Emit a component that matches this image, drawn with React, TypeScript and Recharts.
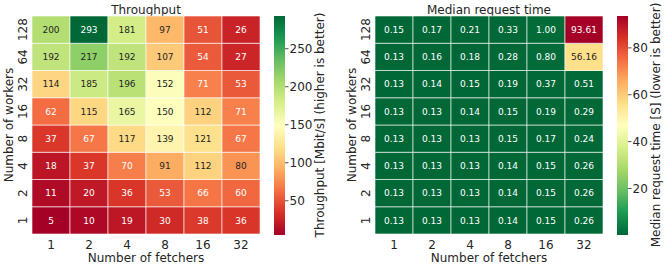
import React from "react";
import { BarChart, Bar, Cell, XAxis, YAxis, LabelList } from "recharts";

const FONT = "DejaVu Sans, sans-serif";
const INK = "#262626";

const FETCHERS = ["1", "2", "4", "8", "16", "32"];
const WORKERS = ["1", "2", "4", "8", "16", "32", "64", "128"];

// rows: workers 1 -> 128, columns: fetchers 1 -> 32
const THROUGHPUT = [
  [5, 10, 19, 30, 38, 36],
  [11, 20, 36, 53, 66, 60],
  [18, 37, 70, 91, 112, 80],
  [37, 67, 117, 139, 121, 67],
  [62, 115, 165, 150, 112, 71],
  [114, 185, 196, 152, 71, 53],
  [192, 217, 192, 107, 54, 27],
  [200, 293, 181, 97, 51, 26],
];

const MEDIAN_TIME = [
  [0.13, 0.13, 0.13, 0.14, 0.15, 0.26],
  [0.13, 0.13, 0.13, 0.14, 0.15, 0.26],
  [0.13, 0.13, 0.13, 0.14, 0.15, 0.26],
  [0.13, 0.13, 0.13, 0.15, 0.17, 0.24],
  [0.13, 0.13, 0.14, 0.15, 0.19, 0.29],
  [0.13, 0.14, 0.15, 0.19, 0.37, 0.51],
  [0.13, 0.16, 0.18, 0.28, 0.8, 56.16],
  [0.15, 0.17, 0.21, 0.33, 1.0, 93.61],
];

const THROUGHPUT_TICKS = [50, 100, 150, 200, 250];
const MEDIAN_TICKS = [20, 40, 60, 80];
const ROW_TICKS = WORKERS.map((_, i) => i + 0.5);

// matplotlib RdYlGn anchors
const RDYLGN = [
  "#a50026", "#d73027", "#f46d43", "#fdae61", "#fee08b", "#ffffbf",
  "#d9ef8b", "#a6d96a", "#66bd63", "#1a9850", "#006837",
];

function hexToRgb(h: string) {
  return [1, 3, 5].map((i) => parseInt(h.slice(i, i + 2), 16) / 255);
}

function rdylgn(t: number) {
  const s = Math.min(1, Math.max(0, t)) * (RDYLGN.length - 1);
  const i = Math.min(Math.floor(s), RDYLGN.length - 2);
  const f = s - i;
  const a = hexToRgb(RDYLGN[i]);
  const b = hexToRgb(RDYLGN[i + 1]);
  return a.map((v, k) => v + (b[k] - v) * f);
}

function toCss(rgb: number[]) {
  return `rgb(${rgb.map((v) => Math.round(v * 255)).join(",")})`;
}

// seaborn picks the annotation colour from relative luminance
function luminance(rgb: number[]) {
  const lin = rgb.map((c) => (c <= 0.03928 ? c / 12.92 : Math.pow((c + 0.055) / 1.055, 2.4)));
  return 0.2126 * lin[0] + 0.7152 * lin[1] + 0.0722 * lin[2];
}

function WorkerTick(props: any) {
  const { x, y, payload } = props;
  const bx = x - 3.5;
  return (
    <text
      x={bx}
      y={y}
      transform={`rotate(-90, ${bx}, ${y})`}
      textAnchor="middle"
      fill={INK}
      fontSize={12}
      fontFamily={FONT}
    >
      {WORKERS[Math.floor(payload.value)]}
    </text>
  );
}

interface HeatmapProps {
  left: number;
  title: string;
  values: number[][];
  reversed: boolean;
  digits: number;
}

function Heatmap({ left, title, values, reversed, digits }: HeatmapProps) {
  const flat = values.flat();
  const lo = Math.min(...flat);
  const hi = Math.max(...flat);
  const colorOf = (v: number) => {
    const t = (v - lo) / (hi - lo);
    return rdylgn(reversed ? 1 - t : t);
  };

  const rows = FETCHERS.map((f, j) => {
    const row: Record<string, any> = { fetcher: f };
    WORKERS.forEach((_, i) => {
      row[`r${i}`] = 1;
      row[`v${i}`] = values[i][j];
    });
    return row;
  });

  const renderLabel = (p: any) => {
    const { x, y, width, height, value } = p;
    const light = luminance(colorOf(value)) > 0.408;
    return (
      <text
        x={x + width / 2}
        y={y + height / 2}
        dy={3.3}
        textAnchor="middle"
        fill={light ? INK : "#ffffff"}
        fontSize={9}
        fontFamily={FONT}
      >
        {Number(value).toFixed(digits)}
      </text>
    );
  };

  return (
    <div style={{ position: "absolute", left, top: 0 }}>
      <BarChart
        width={270}
        height={267}
        data={rows}
        margin={{ top: 16, right: 10, bottom: 0, left: 0 }}
        barCategoryGap={0}
        barGap={0}
      >
        <XAxis
          dataKey="fetcher"
          height={33}
          tickSize={0}
          tickMargin={6}
          axisLine={false}
          tick={{ fill: INK, fontSize: 12, fontFamily: FONT }}
        />
        <YAxis
          type="number"
          domain={[0, 8]}
          ticks={ROW_TICKS}
          width={32}
          tickSize={0}
          axisLine={false}
          tick={<WorkerTick />}
        />
        {WORKERS.map((w, i) => (
          <Bar
            key={w}
            dataKey={`r${i}`}
            stackId="cells"
            isAnimationActive={false}
            stroke="#ffffff"
            strokeWidth={0.6}
          >
            {rows.map((_, j) => (
              <Cell key={j} fill={toCss(colorOf(values[i][j]))} />
            ))}
            <LabelList dataKey={`v${i}`} content={renderLabel} />
          </Bar>
        ))}
        <text x={146} y={13.5} textAnchor="middle" fill={INK} fontSize={12} fontFamily={FONT}>
          {title}
        </text>
        <text x={146} y={261.5} textAnchor="middle" fill={INK} fontSize={12} fontFamily={FONT}>
          Number of fetchers
        </text>
        <text
          x={12.5}
          y={125}
          transform="rotate(-90, 12.5, 125)"
          textAnchor="middle"
          fill={INK}
          fontSize={12}
          fontFamily={FONT}
        >
          Number of workers
        </text>
      </BarChart>
    </div>
  );
}

interface ColorbarProps {
  left: number;
  values: number[][];
  ticks: number[];
  reversed: boolean;
  label: string;
  gradId: string;
  axisWidth: number;
  labelX: number;
}

function Colorbar({ left, values, ticks, reversed, label, gradId, axisWidth, labelX }: ColorbarProps) {
  const flat = values.flat();
  const lo = Math.min(...flat);
  const hi = Math.max(...flat);
  const n = RDYLGN.length;
  const data = [{ name: "cb", range: [lo, hi] }];
  return (
    <div style={{ position: "absolute", left, top: 0 }}>
      <BarChart
        width={11 + axisWidth}
        height={267}
        data={data}
        margin={{ top: 16, right: 0, bottom: 32, left: 0 }}
        barCategoryGap={0}
      >
        <defs>
          <linearGradient id={gradId} x1="0" y1="1" x2="0" y2="0">
            {RDYLGN.map((c, k) => (
              <stop key={k} offset={k / (n - 1)} stopColor={reversed ? RDYLGN[n - 1 - k] : c} />
            ))}
          </linearGradient>
        </defs>
        <XAxis dataKey="name" hide />
        <YAxis
          orientation="right"
          type="number"
          domain={[lo, hi]}
          ticks={ticks}
          width={axisWidth}
          tickSize={3.5}
          tickMargin={1}
          axisLine={false}
          tickLine={{ stroke: INK, strokeWidth: 0.8 }}
          tick={{ fill: INK, fontSize: 12, fontFamily: FONT }}
        />
        <Bar dataKey="range" fill={`url(#${gradId})`} isAnimationActive={false} />
        <text
          x={labelX}
          y={125}
          transform={`rotate(-90, ${labelX}, 125)`}
          textAnchor="middle"
          fill={INK}
          fontSize={12}
          fontFamily={FONT}
        >
          {label}
        </text>
      </BarChart>
    </div>
  );
}

export default function App() {
  return (
    <div
      style={{
        position: "absolute",
        left: 0,
        top: 0,
        width: 664,
        height: 267,
        background: "#ffffff",
        overflow: "hidden",
      }}
    >
      <Heatmap left={0} title="Throughput" values={THROUGHPUT} reversed={false} digits={0} />
      <Colorbar
        left={274}
        values={THROUGHPUT}
        ticks={THROUGHPUT_TICKS}
        reversed={false}
        label="Throughput [Mbit/s] (higher is better)"
        gradId="gradThroughput"
        axisWidth={45}
        labelX={49.5}
      />
      <Heatmap left={343} title="Median request time" values={MEDIAN_TIME} reversed={true} digits={2} />
      <Colorbar
        left={617}
        values={MEDIAN_TIME}
        ticks={MEDIAN_TICKS}
        reversed={true}
        label="Median request time [S] (lower is better)"
        gradId="gradMedian"
        axisWidth={36}
        labelX={43}
      />
    </div>
  );
}
